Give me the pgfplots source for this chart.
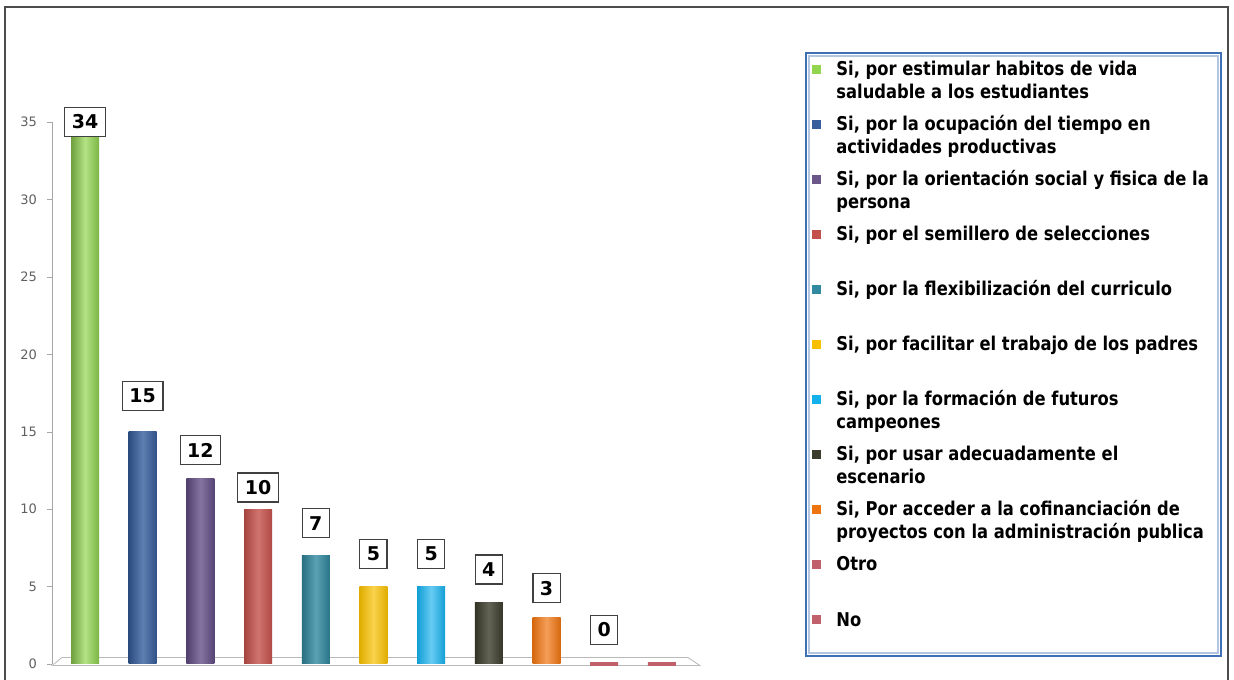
\documentclass[border=0pt]{standalone}
\usepackage{pgfplots}
\pgfplotsset{compat=1.18}
\usepackage{fontspec}
\setmainfont{DejaVu Sans}
\newfontfamily\legfam{DejaVu Sans}[FakeStretch=0.86]
\definecolor{legblue}{HTML}{3F6FB5}
\definecolor{cGreen}{HTML}{92D650}
\definecolor{cBlue}{HTML}{365F9E}
\definecolor{cPurple}{HTML}{66508A}
\definecolor{cRed}{HTML}{C4504B}
\definecolor{cTeal}{HTML}{318AA0}
\definecolor{cYellow}{HTML}{F8C000}
\definecolor{cLBlue}{HTML}{14B0EC}
\definecolor{cOlive}{HTML}{3C3C2C}
\definecolor{cOrange}{HTML}{EE7410}
\definecolor{cPink}{HTML}{C0606A}
\newcommand{\legf}{\legfam\fontsize{9.5}{11}\selectfont\bfseries}
\begin{document}
\begin{tikzpicture}[x=0.5pt,y=0.5pt]
\path[use as bounding box] (0,0) rectangle (1234,679);
\clip (0,0) rectangle (1234,679);
\draw[line width=1pt, black!70] (5,-20) rectangle (1228,672);
\begin{axis}[
  at={(26pt,7.5pt)}, anchor=south west,
  scale only axis, width=324pt, height=271pt,
  xmin=-0.572, xmax=10.66, ymin=0, ymax=35,
  clip=false,
  axis x line=none,
  axis y line*=left,
  y axis line style={gray!70, -},
  ytick={0,5,...,35},
  tick align=outside, major tick length=2.5pt,
  tick style={gray!70},
  yticklabel style={font=\fontsize{6.5}{7}\selectfont, text=gray!75!black, xshift=-1.5pt},
  /pgf/number format/assume math mode=true,
  ybar, bar width=14pt, bar shift=0pt,
]
\draw[gray!55, fill=white] (axis cs:-0.57,-0.1) -- (axis cs:10.66,-0.1) -- (axis cs:10.45,0.42) -- (axis cs:-0.40,0.42) -- cycle;
\addplot[draw=none, left color=cGreen!75!black, right color=cGreen!85!black, middle color=cGreen!70!white] coordinates {(0,34)};
\addplot[draw=none, left color=cBlue!80!black, right color=cBlue!85!black, middle color=cBlue!80!white] coordinates {(1,15)};
\addplot[draw=none, left color=cPurple!80!black, right color=cPurple!85!black, middle color=cPurple!80!white] coordinates {(2,12)};
\addplot[draw=none, left color=cRed!85!black, right color=cRed!90!black, middle color=cRed!80!white] coordinates {(3,10)};
\addplot[draw=none, left color=cTeal!80!black, right color=cTeal!85!black, middle color=cTeal!80!white] coordinates {(4,7)};
\addplot[draw=none, left color=cYellow!90!black, right color=cYellow!90!black, middle color=cYellow!70!white] coordinates {(5,5)};
\addplot[draw=none, left color=cLBlue!90!black, right color=cLBlue!90!black, middle color=cLBlue!65!white] coordinates {(6,5)};
\addplot[draw=none, left color=cOlive!85!black, right color=cOlive!90!black, middle color=cOlive!80!white] coordinates {(7,4)};
\addplot[draw=none, left color=cOrange!90!black, right color=cOrange!90!black, middle color=cOrange!70!white] coordinates {(8,3)};
\addplot[draw=cPink, line width=1.5pt] coordinates {(9,0)};
\addplot[draw=cPink, line width=1.5pt] coordinates {(10,0)};
% value labels
\addplot[draw=none, mark=none, ybar=0pt, bar width=0pt, forget plot,
  nodes near coords, point meta=explicit symbolic,
  every node near coord/.append style={anchor=center, draw=black!75, fill=white, line width=0.6pt,
    font=\fontsize{9.5}{10}\selectfont\bfseries, inner xsep=3.5pt, inner ysep=3pt, minimum height=14.5pt}]
  table[meta=lab] {
x y lab
0 35.0 34
1 17.3 15
2 13.8 12
3 11.4 10
4 9.1 7
5 7.1 5
6 7.1 5
7 6.1 4
8 4.9 3
9 2.2 0
};
\end{axis}
% legend box
\draw[legblue!40, line width=0.8pt] (809,26) rectangle (1218,623);
\draw[legblue, line width=1.3pt] (806,23) rectangle (1221,626);
% legend entries
\fill[cGreen] (812,605) rectangle (821,614);
\node[anchor=base west, inner sep=0, font=\legf] at (836,603) {Si, por estimular habitos de vida};
\node[anchor=base west, inner sep=0, font=\legf] at (836,580) {saludable a los estudiantes};
\fill[cBlue] (812,550) rectangle (821,559);
\node[anchor=base west, inner sep=0, font=\legf] at (836,548) {Si, por la ocupación del tiempo en};
\node[anchor=base west, inner sep=0, font=\legf] at (836,525) {actividades productivas};
\fill[cPurple!85!gray] (812,495) rectangle (821,504);
\node[anchor=base west, inner sep=0, font=\legf] at (836,493) {Si, por la orientación social y fisica de la};
\node[anchor=base west, inner sep=0, font=\legf] at (836,470) {persona};
\fill[cRed] (812,440) rectangle (821,449);
\node[anchor=base west, inner sep=0, font=\legf] at (836,438) {Si, por el semillero de selecciones};
\fill[cTeal] (812,385) rectangle (821,394);
\node[anchor=base west, inner sep=0, font=\legf] at (836,383) {Si, por la flexibilización del curriculo};
\fill[cYellow] (812,330) rectangle (821,339);
\node[anchor=base west, inner sep=0, font=\legf] at (836,328) {Si, por facilitar el trabajo de los padres};
\fill[cLBlue] (812,275) rectangle (821,284);
\node[anchor=base west, inner sep=0, font=\legf] at (836,273) {Si, por la formación de futuros};
\node[anchor=base west, inner sep=0, font=\legf] at (836,250) {campeones};
\fill[cOlive] (812,220) rectangle (821,229);
\node[anchor=base west, inner sep=0, font=\legf] at (836,218) {Si, por usar adecuadamente el};
\node[anchor=base west, inner sep=0, font=\legf] at (836,195) {escenario};
\fill[cOrange] (812,165) rectangle (821,174);
\node[anchor=base west, inner sep=0, font=\legf] at (836,163) {Si, Por acceder a la cofinanciación de};
\node[anchor=base west, inner sep=0, font=\legf] at (836,140) {proyectos con la administración publica};
\fill[cPink] (812,110) rectangle (821,119);
\node[anchor=base west, inner sep=0, font=\legf] at (836,108) {Otro};
\fill[cPink] (812,55) rectangle (821,64);
\node[anchor=base west, inner sep=0, font=\legf] at (836,53) {No};
\end{tikzpicture}
\end{document}
